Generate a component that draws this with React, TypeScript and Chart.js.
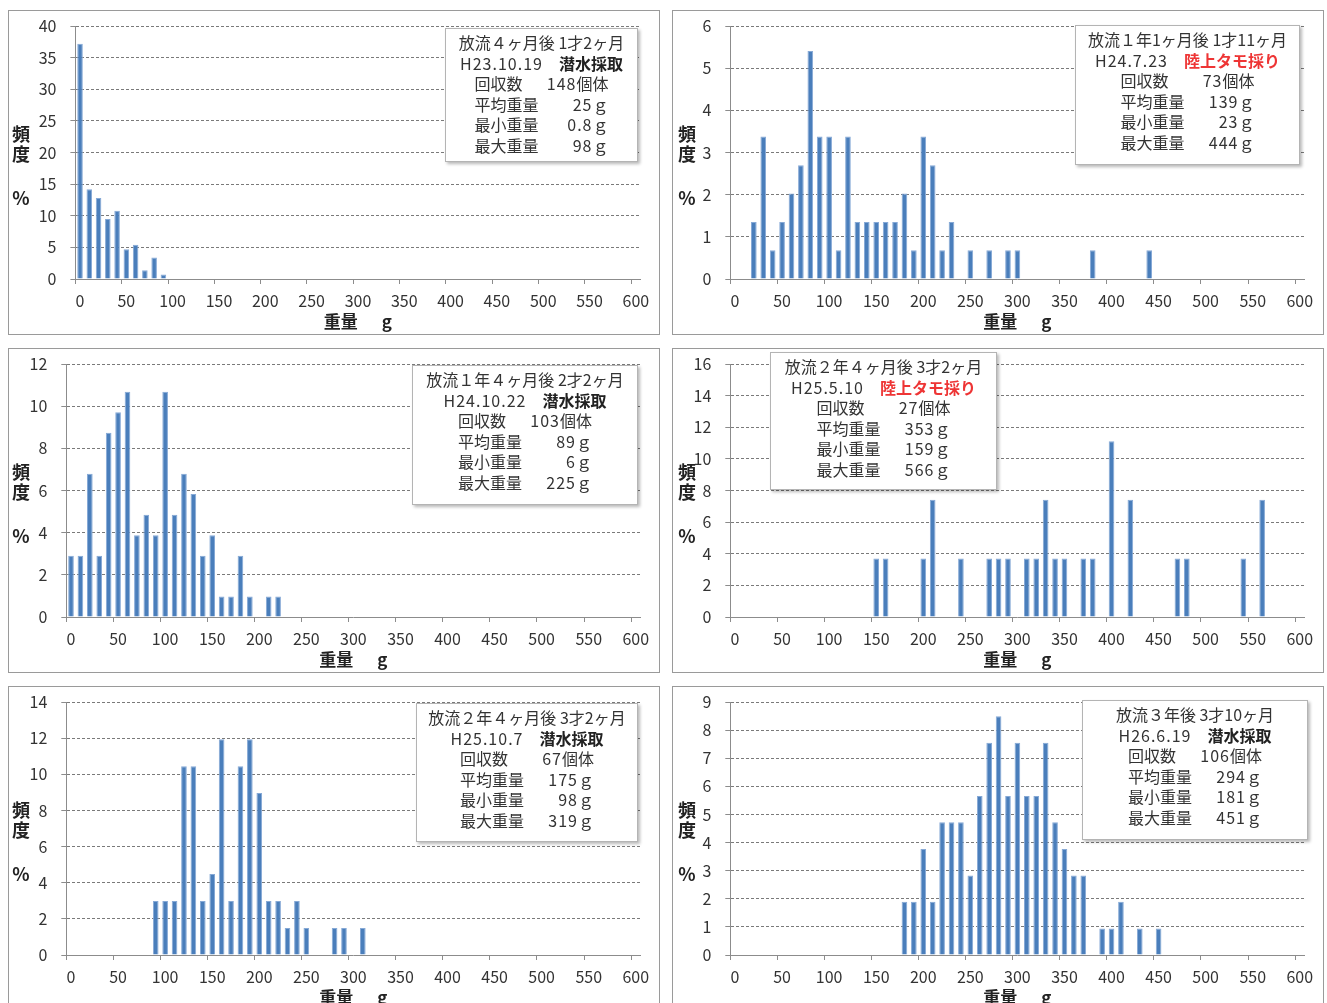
import React, { useEffect, useRef } from "react";
import { Chart, registerables } from "chart.js";

Chart.register(...registerables);

// ---------- data ----------
const WEIGHT_BINS = [
  "0", "10", "20", "30", "40", "50", "60", "70", "80", "90",
  "100", "110", "120", "130", "140", "150", "160", "170", "180", "190",
  "200", "210", "220", "230", "240", "250", "260", "270", "280", "290",
  "300", "310", "320", "330", "340", "350", "360", "370", "380", "390",
  "400", "410", "420", "430", "440", "450", "460", "470", "480", "490",
  "500", "510", "520", "530", "540", "550", "560", "570", "580", "590",
  "600",
];

const P1_BINS = [0, 10, 20, 30, 40, 50, 60, 70, 80, 90];
const P1_PCT = [37.2, 14.2, 12.8, 9.5, 10.8, 4.7, 5.4, 1.4, 3.4, 0.7];

const P2_BINS = [20, 30, 40, 50, 60, 70, 80, 90, 100, 110, 120, 130, 140, 150, 160, 170, 180, 190, 200, 210, 220, 230, 250, 270, 290, 300, 380, 440];
const P2_PCT = [1.35, 3.38, 0.68, 1.35, 2.03, 2.7, 5.41, 3.38, 3.38, 0.68, 3.38, 1.35, 1.35, 1.35, 1.35, 1.35, 2.03, 0.68, 3.38, 2.7, 0.68, 1.35, 0.68, 0.68, 0.68, 0.68, 0.68, 0.68];

const P3_BINS = [0, 10, 20, 30, 40, 50, 60, 70, 80, 90, 100, 110, 120, 130, 140, 150, 160, 170, 180, 190, 210, 220];
const P3_PCT = [2.91, 2.91, 6.8, 2.91, 8.74, 9.71, 10.68, 3.88, 4.85, 3.88, 10.68, 4.85, 6.8, 5.83, 2.91, 3.88, 0.97, 0.97, 2.91, 0.97, 0.97, 0.97];

const P4_BINS = [150, 160, 200, 210, 240, 270, 280, 290, 310, 320, 330, 340, 350, 370, 380, 400, 420, 470, 480, 540, 560];
const P4_PCT = [3.7, 3.7, 3.7, 7.41, 3.7, 3.7, 3.7, 3.7, 3.7, 3.7, 7.41, 3.7, 3.7, 3.7, 3.7, 11.11, 7.41, 3.7, 3.7, 3.7, 7.41];

const P5_BINS = [90, 100, 110, 120, 130, 140, 150, 160, 170, 180, 190, 200, 210, 220, 230, 240, 250, 280, 290, 310];
const P5_PCT = [2.99, 2.99, 2.99, 10.45, 10.45, 2.99, 4.48, 11.94, 2.99, 10.45, 11.94, 8.96, 2.99, 2.99, 1.49, 2.99, 1.49, 1.49, 1.49, 1.49];

const P6_BINS = [180, 190, 200, 210, 220, 230, 240, 250, 260, 270, 280, 290, 300, 310, 320, 330, 340, 350, 360, 370, 390, 400, 410, 430, 450];
const P6_PCT = [1.89, 1.89, 3.77, 1.89, 4.72, 4.72, 4.72, 2.83, 5.66, 7.55, 8.49, 5.66, 7.55, 5.66, 5.66, 7.55, 4.72, 3.77, 2.83, 2.83, 0.94, 0.94, 1.89, 0.94, 0.94];

const Y_MAX = [40, 6, 12, 16, 14, 9];
const Y_STEP = [5, 1, 2, 2, 2, 1];

const RELEASE_TEXT = [
  "放流４ヶ月後 1才2ヶ月",
  "放流１年1ヶ月後 1才11ヶ月",
  "放流１年４ヶ月後 2才2ヶ月",
  "放流２年４ヶ月後 3才2ヶ月",
  "放流２年４ヶ月後 3才2ヶ月",
  "放流３年後 3才10ヶ月",
];
const DATES = ["H23.10.19", "H24.7.23", "H24.10.22", "H25.5.10", "H25.10.7", "H26.6.19"];
const METHODS = ["潜水採取", "陸上タモ採り", "潜水採取", "陸上タモ採り", "潜水採取", "潜水採取"];
const COUNTS = ["148", "73", "103", "27", "67", "106"];
const MEAN_W = ["25", "139", "89", "353", "175", "294"];
const MIN_W = ["0.8", "23", "6", "159", "98", "181"];
const MAX_W = ["98", "444", "225", "566", "319", "451"];

// ---------- layout ----------
const FONT = '"Noto Sans CJK JP", "Noto Sans", sans-serif';
const TEXT = "#333333";
const AXIS = "#8c8c8c";
const GRID = "#7a7a7a";
const BAR = "#4a7ebb";
const BAR_EDGE = "#86a9d6";

const W = 651;
const H = 324;
const PLOT_RIGHT = 632.5;
const PAD_TOP = 16;
const PLOT_BOTTOM = 269;

const FRAMES = [
  { x: 8, y: 10 },
  { x: 672, y: 10 },
  { x: 8, y: 348 },
  { x: 672, y: 348 },
  { x: 8, y: 686 },
  { x: 672, y: 686 },
];
const PLOT_LEFT = [67.4, 58.3, 58.3, 58.3, 58.3, 58.3];
const BOXES = [
  { x: 437, y: 18, w: 193, h: 134 },
  { x: 403, y: 15, w: 225, h: 140 },
  { x: 404, y: 17, w: 226, h: 140 },
  { x: 98, y: 4, w: 227, h: 138 },
  { x: 408, y: 17, w: 222, h: 139 },
  { x: 410, y: 14, w: 226, h: 140 },
];

const ALL_BINS = [P1_BINS, P2_BINS, P3_BINS, P4_BINS, P5_BINS, P6_BINS];
const ALL_PCT = [P1_PCT, P2_PCT, P3_PCT, P4_PCT, P5_PCT, P6_PCT];

function HistPanel({ idx }: { idx: number }) {
  const ref = useRef<HTMLCanvasElement | null>(null);
  const frame = FRAMES[idx];
  const left = PLOT_LEFT[idx];
  const box = BOXES[idx];

  useEffect(() => {
    const lookup = new Map<string, number>();
    ALL_BINS[idx].forEach((b, i) => lookup.set(String(b), ALL_PCT[idx][i]));
    const data = WEIGHT_BINS.map((l) => (lookup.has(l) ? (lookup.get(l) as number) : null));
    const chart = new Chart(ref.current as HTMLCanvasElement, {
      type: "bar",
      data: {
        labels: WEIGHT_BINS,
        datasets: [
          {
            data,
            backgroundColor: BAR,
            borderColor: BAR_EDGE,
            borderWidth: 1,
            barPercentage: 0.6,
            categoryPercentage: 1,
          },
        ],
      },
      options: {
        animation: false,
        responsive: false,
        maintainAspectRatio: false,
        events: [],
        plugins: { legend: { display: false }, tooltip: { enabled: false }, title: { display: false } },
        layout: { padding: { left: 0, top: PAD_TOP, right: W - PLOT_RIGHT, bottom: 0 } },
        scales: {
          x: {
            type: "category",
            offset: true,
            grid: {
              offset: true,
              drawOnChartArea: false,
              drawTicks: true,
              tickLength: 5,
              tickWidth: 1,
              tickColor: (c: any) => (typeof c.index === "number" && c.index % 5 === 0 ? AXIS : "transparent"),
            },
            border: { display: true, color: AXIS, width: 1 },
            ticks: {
              autoSkip: false,
              maxRotation: 0,
              minRotation: 0,
              padding: 7,
              color: TEXT,
              font: { family: FONT, size: 16 },
              callback: (_v: any, i: number) => (i % 5 === 0 ? WEIGHT_BINS[i] : ""),
            },
            afterFit: (s: any) => {
              s.height = H - PLOT_BOTTOM;
            },
          },
          y: {
            min: 0,
            max: Y_MAX[idx],
            ticks: {
              stepSize: Y_STEP[idx],
              padding: 14,
              color: TEXT,
              font: { family: FONT, size: 16 },
            },
            grid: {
              color: (c: any) => (c.tick && c.tick.value === 0 ? "transparent" : GRID),
              lineWidth: 1,
              drawTicks: true,
              tickLength: 5,
              tickColor: AXIS,
              tickBorderDash: [],
            },
            border: { display: true, color: AXIS, width: 1, dash: [3, 2] },
            afterFit: (s: any) => {
              s.width = left;
              s.paddingTop = 4;
              s.paddingBottom = 4;
            },
          },
        },
      },
    } as any);
    return () => chart.destroy();
  }, [idx]);

  const chartCenter = (left + PLOT_RIGHT) / 2;
  const methodColor = METHODS[idx] === "陸上タモ採り" ? "#ee3535" : "#222";
  const num = { letterSpacing: 1 };

  return (
    <div style={{ position: "absolute", left: frame.x, top: frame.y, width: W, height: H }}>
      <canvas ref={ref} width={W} height={H} style={{ position: "absolute", left: 0, top: 0, width: W, height: H }} />
      {/* y axis title */}
      <div
        style={{
          position: "absolute",
          left: idx % 2 === 0 ? 3 : 5,
          top: 113,
          width: 20,
          fontFamily: FONT,
          fontWeight: 700,
          fontSize: 18,
          color: "#222",
          lineHeight: "20px",
          textAlign: "center",
        }}
      >
        <div>頻</div>
        <div>度</div>
        <div style={{ marginTop: 24 }}>%</div>
      </div>
      {/* x axis title */}
      <div
        style={{
          position: "absolute",
          left: chartCenter - 60,
          width: 120,
          top: 300,
          textAlign: "center",
          fontFamily: FONT,
          fontWeight: 700,
          fontSize: 17,
          color: "#222",
          lineHeight: "22px",
          whiteSpace: "nowrap",
        }}
      >
        <span>重量</span>
        <span style={{ marginLeft: 24 }}>g</span>
      </div>
      {/* info box */}
      <div
        style={{
          position: "absolute",
          left: box.x,
          top: box.y,
          width: box.w,
          height: box.h,
          boxSizing: "border-box",
          background: "#fff",
          border: "1px solid #b4b4b4",
          boxShadow: "2px 2px 3px rgba(0,0,0,0.28)",
          fontFamily: FONT,
          fontSize: 16,
          color: TEXT,
          lineHeight: "20.6px",
          paddingTop: 3,
          whiteSpace: "nowrap",
        }}
      >
        <div style={{ textAlign: "center" }}>{RELEASE_TEXT[idx]}</div>
        <div style={{ textAlign: "center" }}>
          <span style={num}>{DATES[idx]}</span>
          <span style={{ marginLeft: 16, fontWeight: 700, color: methodColor }}>{METHODS[idx]}</span>
        </div>
        <div
          style={{
            width: 134,
            margin: "0 auto",
            display: "grid",
            gridTemplateColumns: "auto auto",
            justifyContent: "space-between",
          }}
        >
          <span>回収数</span>
          <span style={{ textAlign: "right" }}><span style={num}>{COUNTS[idx]}</span>個体</span>
          <span>平均重量</span>
          <span style={{ textAlign: "right" }}><span style={num}>{MEAN_W[idx]}</span>ｇ</span>
          <span>最小重量</span>
          <span style={{ textAlign: "right" }}><span style={num}>{MIN_W[idx]}</span>ｇ</span>
          <span>最大重量</span>
          <span style={{ textAlign: "right" }}><span style={num}>{MAX_W[idx]}</span>ｇ</span>
        </div>
      </div>
      {/* frame */}
      <div
        style={{
          position: "absolute",
          left: 0,
          top: 0,
          width: W + 1,
          height: H + 1,
          boxSizing: "border-box",
          border: "1px solid #9a9a9a",
          pointerEvents: "none",
        }}
      />
    </div>
  );
}

export default function App() {
  return (
    <div
      style={{
        position: "absolute",
        left: 0,
        top: 0,
        width: 1327,
        height: 1003,
        overflow: "hidden",
        background: "#fff",
      }}
    >
      {FRAMES.map((_, i) => (
        <HistPanel key={i} idx={i} />
      ))}
    </div>
  );
}
